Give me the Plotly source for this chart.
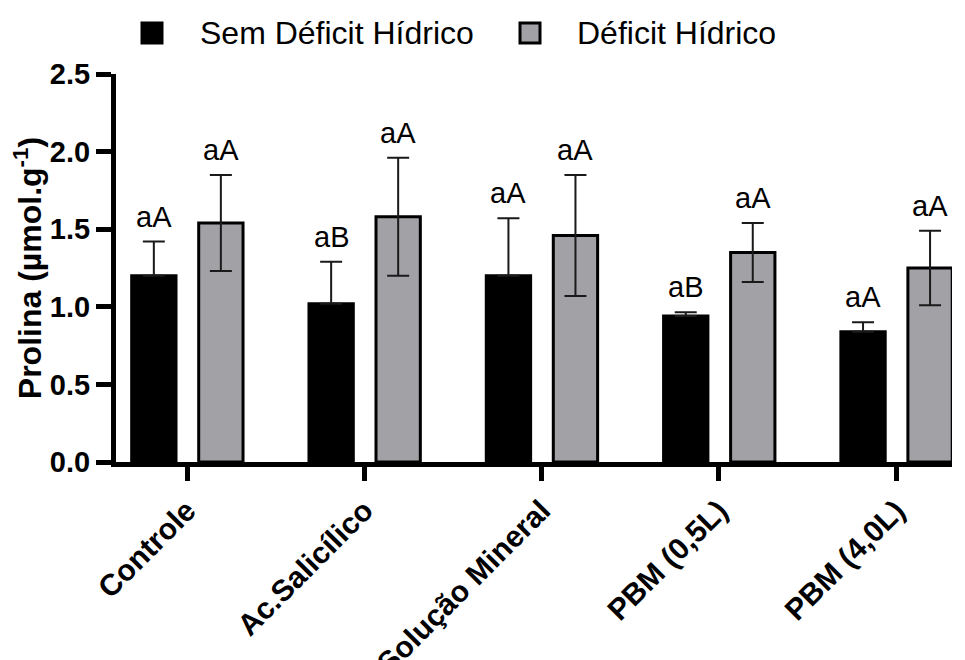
import plotly.graph_objects as go

# ---- data ----
categories = ["Controle", "Ac.Salicílico", "Solução Mineral", "PBM (0,5L)", "PBM (4,0L)"]
series_names = ["Sem Déficit Hídrico", "Déficit Hídrico"]
sem_deficit = [1.20, 1.02, 1.20, 0.94, 0.84]
sem_deficit_err = [0.22, 0.27, 0.37, 0.025, 0.06]
deficit = [1.54, 1.58, 1.46, 1.35, 1.25]
deficit_err = [0.31, 0.38, 0.39, 0.19, 0.24]
sem_letters = ["aA", "aB", "aA", "aB", "aA"]
def_letters = ["aA", "aA", "aA", "aA", "aA"]
y_ticks = [0.0, 0.5, 1.0, 1.5, 2.0, 2.5]

# ---- style ----
BLACK = "#000000"
GRAY = "#a2a1a6"
FONT = "Liberation Sans, Arial, sans-serif"
OFS = 8                       # default page body margin
W, H = 965 - OFS, 660 - OFS
# plot area edges in page pixels
PL, PR, PT, PB = 116, 952, 74, 462
L, R, T, B = PL - OFS, (W + OFS) - PR, PT - OFS, (H + OFS) - PB
PW, PH = PR - PL, PB - PT

BAR_W = 0.25
OFF_BLACK = -0.312
OFF_GRAY = 0.066
STEP = 177.3                  # px per category
FIRST_CENTER = 187

def px_x(px):
    return (px - PL) / PW

def px_y(py):
    return (PB - py) / PH

fig = go.Figure()
fig.add_trace(go.Bar(
    x=categories, y=sem_deficit, name=series_names[0],
    width=BAR_W, offset=OFF_BLACK,
    marker=dict(color=BLACK, line=dict(color=BLACK, width=3)),
    error_y=dict(type="data", array=sem_deficit_err, arrayminus=[0] * len(categories),
                 symmetric=False, visible=True, color="#1a1a1a", thickness=2, width=11),
    showlegend=False,
))
fig.add_trace(go.Bar(
    x=categories, y=deficit, name=series_names[1],
    width=BAR_W, offset=OFF_GRAY,
    marker=dict(color=GRAY, line=dict(color=BLACK, width=3)),
    error_y=dict(type="data", array=deficit_err, visible=True,
                 color="#1a1a1a", thickness=2, width=11),
    showlegend=False,
))

# letters above error bars
for i in range(len(categories)):
    fig.add_annotation(x=i + OFF_BLACK + BAR_W / 2, y=sem_deficit[i] + sem_deficit_err[i],
                       text=sem_letters[i], showarrow=False, yanchor="bottom", yshift=7,
                       font=dict(family=FONT, size=29, color=BLACK))
    fig.add_annotation(x=i + OFF_GRAY + BAR_W / 2, y=deficit[i] + deficit_err[i],
                       text=def_letters[i], showarrow=False, yanchor="bottom", yshift=7,
                       font=dict(family=FONT, size=29, color=BLACK))

# legend (manual, top)
legend_items = [(series_names[0], BLACK, 142, 198), (series_names[1], GRAY, 520, 575)]
for name, col, sx, tx in legend_items:
    fig.add_shape(type="rect", xref="paper", yref="paper",
                  x0=px_x(sx), x1=px_x(sx + 20), y0=px_y(43), y1=px_y(23),
                  fillcolor=col, line=dict(color=BLACK, width=3))
    fig.add_annotation(xref="paper", yref="paper", x=px_x(tx), y=px_y(33),
                       xanchor="left", yanchor="middle", text=name, showarrow=False,
                       font=dict(family=FONT, size=32, color=BLACK))

fig.update_layout(
    width=W, height=H,
    margin=dict(l=L, r=R, t=T, b=B, autoexpand=False),
    paper_bgcolor="white", plot_bgcolor="white",
    barmode="overlay",
    font=dict(family=FONT, color=BLACK),
)
fig.update_xaxes(
    range=[-(FIRST_CENTER - PL) / STEP,
           len(categories) - 1 + (PR - (FIRST_CENTER + STEP * (len(categories) - 1))) / STEP],
    showline=True, linecolor=BLACK, linewidth=5,
    ticks="outside", ticklen=14, tickwidth=5, tickcolor=BLACK,
    tickangle=-45, tickfont=dict(family=FONT, size=30, color=BLACK, weight="bold"),
    showgrid=False, zeroline=False,
)
fig.update_yaxes(
    range=[0, 2.5], tickvals=y_ticks, ticktext=[f"{v:.1f}" for v in y_ticks],
    showline=True, linecolor=BLACK, linewidth=5,
    ticks="outside", ticklen=15, tickwidth=5, tickcolor=BLACK,
    tickfont=dict(family=FONT, size=29, color=BLACK, weight="bold"),
    title=dict(text="Prolina (µmol.g<sup>-1</sup>)", standoff=0,
               font=dict(family=FONT, size=32, color=BLACK, weight="bold")),
    showgrid=False, zeroline=False,
)

fig.write_html("out.html")
